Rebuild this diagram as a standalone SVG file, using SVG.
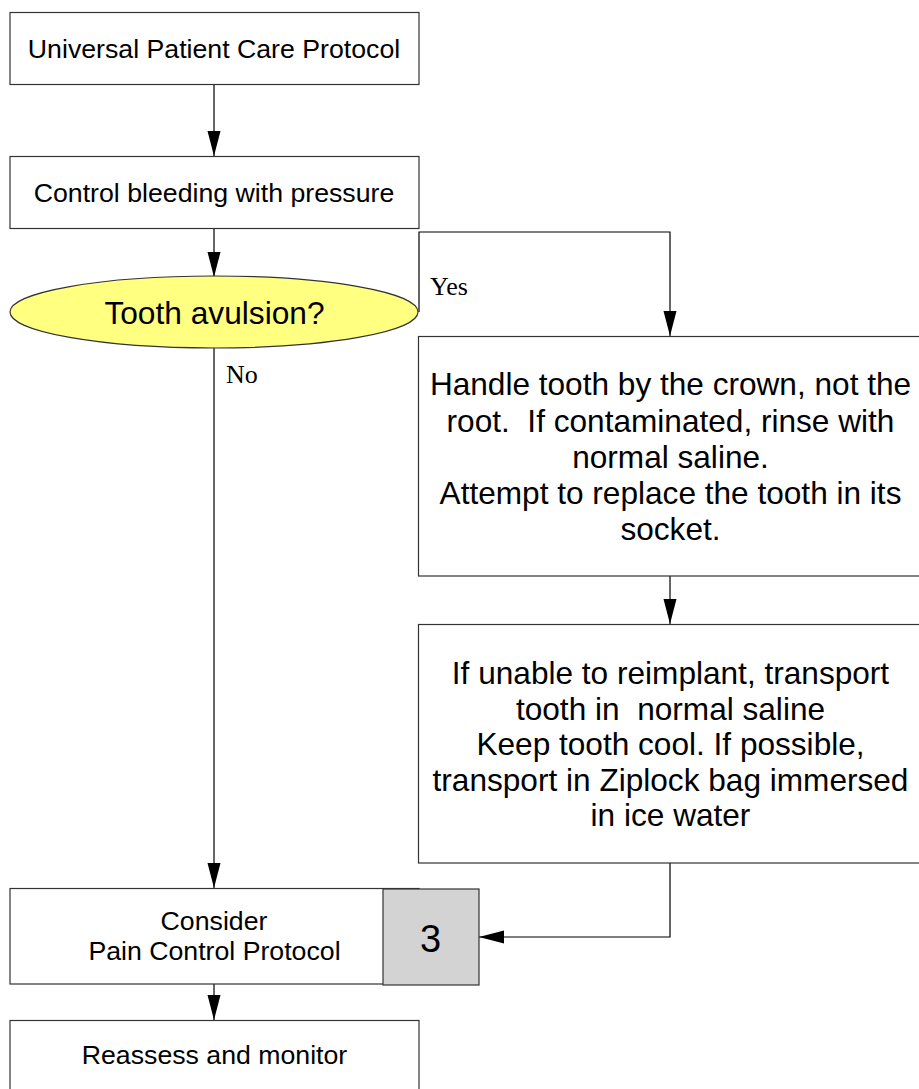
<svg xmlns="http://www.w3.org/2000/svg" width="919" height="1089" viewBox="0 0 919 1089">
<style>
.box{fill:#ffffff;stroke:#333333;stroke-width:1.2}
.t{font-family:"Liberation Sans",Arial,sans-serif;fill:#000000;text-anchor:middle}
.lbl{font-family:"Liberation Serif","Times New Roman",serif;font-size:26px;fill:#000000}
.conn{fill:none;stroke:#000000;stroke-width:1.2}
</style>
<defs>
<marker id="arr" markerUnits="userSpaceOnUse" markerWidth="26" markerHeight="14" refX="25" refY="6.5" orient="auto">
<path d="M0,0 L25,6.5 L0,13 Z" fill="#000000"/>
</marker>
</defs>
<rect width="919" height="1089" fill="#ffffff"/>
<g id="connectors">
<path class="conn" d="M214,84 V156" marker-end="url(#arr)"/>
<path class="conn" d="M214,228 V277" marker-end="url(#arr)"/>
<path class="conn" d="M419,312 V232 H670 V336" marker-end="url(#arr)"/>
<path class="conn" d="M214,348 V888" marker-end="url(#arr)"/>
<path class="conn" d="M670,576 V624" marker-end="url(#arr)"/>
<path class="conn" d="M670,863 V937 H479" marker-end="url(#arr)"/>
<path class="conn" d="M214,984 V1020" marker-end="url(#arr)"/>
<text class="lbl" x="430" y="295">Yes</text>
<text class="lbl" x="226" y="383">No</text>
</g>
<g id="n1">
<rect class="box" x="10" y="12.5" width="409" height="72"/>
<text class="t" x="214" y="58" font-size="26.7">Universal Patient Care Protocol</text>
</g>
<g id="n2">
<rect class="box" x="10" y="156.5" width="409" height="72"/>
<text class="t" x="214" y="201.5" font-size="26.7">Control bleeding with pressure</text>
</g>
<g id="n3">
<ellipse cx="214" cy="312" rx="204" ry="36" fill="#ffff80" stroke="#333333" stroke-width="1.2"/>
<text class="t" x="214.5" y="323.5" font-size="31.7">Tooth avulsion?</text>
</g>
<g id="n4">
<rect class="box" x="418.5" y="336.5" width="505" height="239.5"/>
<text class="t" font-size="31.6" xml:space="preserve"><tspan x="670.5" y="395">Handle tooth by the crown, not the</tspan><tspan x="670.5" y="431.5">root.  If contaminated, rinse with</tspan><tspan x="670.5" y="468">normal saline.</tspan><tspan x="670.5" y="504">Attempt to replace the tooth in its</tspan><tspan x="670.5" y="540">socket.</tspan></text>
</g>
<g id="n5">
<rect class="box" x="418.5" y="624.5" width="505" height="238.5"/>
<text class="t" font-size="31.6" xml:space="preserve"><tspan x="670.5" y="684">If unable to reimplant, transport</tspan><tspan x="670.5" y="719.5">tooth in  normal saline</tspan><tspan x="670.5" y="755">Keep tooth cool. If possible,</tspan><tspan x="670.5" y="790.5">transport in Ziplock bag immersed</tspan><tspan x="670.5" y="826">in ice water</tspan></text>
</g>
<g id="n6">
<rect class="box" x="10" y="888.5" width="409" height="95.5"/>
<text class="t" font-size="26.7"><tspan x="214" y="930">Consider</tspan><tspan x="214.5" y="959.5">Pain Control Protocol</tspan></text>
</g>
<g id="n7">
<rect x="383" y="889" width="96" height="96" fill="#d3d3d3" stroke="#333333" stroke-width="1.2"/>
<text class="t" x="430.5" y="951.5" font-size="38">3</text>
</g>
<g id="n8">
<rect class="box" x="10" y="1020.5" width="409" height="80"/>
<text class="t" x="214.5" y="1064" font-size="26.7">Reassess and monitor</text>
</g>
</svg>
